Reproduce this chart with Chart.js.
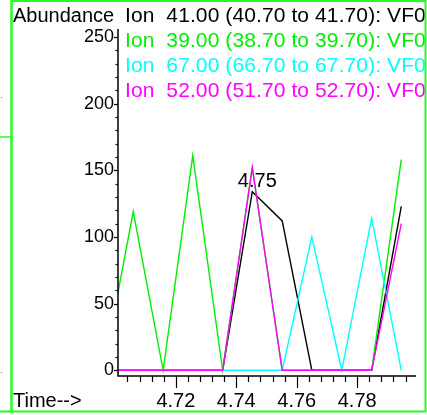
<!DOCTYPE html>
<html lang="en">
<head>
<meta charset="UTF-8">
<title>Ion chromatogram</title>
<script src="https://cdn.jsdelivr.net/npm/chart.js"></script>
<style>
  html, body { margin: 0; padding: 0; background: #ffffff; }
  #chart { display: block; }
</style>
</head>
<body>
<canvas id="chart" width="427" height="415"></canvas>
<script>
// scan times (min) and abundances per ion
const times = [4.6960, 4.7059, 4.7158, 4.7256, 4.7355, 4.7453, 4.7552, 4.7650, 4.7749, 4.7848, 4.7946];
const ion41 = [0, 0, 0, 0, 0, 134, 112, 0, 0, 0, 123];
const ion39 = [0, 119, 0, 161, 0, 152, 0, 0, 0, 0, 158];
const ion67 = [0, 0, 0, 0, 0, 0, 0, 100, 0, 114, 0];
const ion52 = [0, 0, 0, 0, 0, 152, 0, 0, 0, 0, 110];

const ionLabels = [
  'Ion  41.00 (40.70 to 41.70): VF0',
  'Ion  39.00 (38.70 to 39.70): VF0',
  'Ion  67.00 (66.70 to 67.70): VF0',
  'Ion  52.00 (51.70 to 52.70): VF0'
];
const ionColors = ['#000000', '#00ee00', '#00ffff', '#ff00ff'];

const xTickLabels = [4.72, 4.74, 4.76, 4.78];
const yTickLabels = [0, 50, 100, 150, 200, 250];

function pts(vals) {
  return times.map((t, i) => ({ x: t, y: vals[i] }));
}

// axes, ticks and texts drawn on top of the library's scales
const decor = {
  id: 'decor',
  afterDraw(chart) {
    const ctx = chart.ctx;
    const xs = chart.scales.x, ys = chart.scales.y;
    const area = chart.chartArea;
    ctx.save();

    // axis lines
    ctx.strokeStyle = '#000';
    ctx.lineWidth = 1.5;
    ctx.beginPath();
    ctx.moveTo(area.left, area.top);
    ctx.lineTo(area.left, area.bottom);
    ctx.lineTo(area.right, area.bottom);
    ctx.stroke();

    // x ticks every 0.004, long ones at labels
    ctx.lineWidth = 1.2;
    for (let v = 4.704; v < xs.max; v += 0.004) {
      const px = Math.round(xs.getPixelForValue(v)) + 0.5;
      const major = xTickLabels.some(t => Math.abs(t - v) < 1e-6);
      ctx.beginPath();
      ctx.moveTo(px, area.bottom);
      ctx.lineTo(px, area.bottom + (major ? 12 : 6));
      ctx.stroke();
    }
    // y ticks every 10
    for (let v = 0; v <= 250; v += 10) {
      const py = Math.round(ys.getPixelForValue(v)) + 0.5;
      const major = v % 50 === 0;
      ctx.beginPath();
      ctx.moveTo(area.left, py);
      ctx.lineTo(area.left - (major ? 4 : 2.5), py);
      ctx.stroke();
    }

    ctx.fillStyle = '#000';
    // y labels
    ctx.font = '18px "Liberation Sans", Arial, sans-serif';
    ctx.textAlign = 'right';
    ctx.textBaseline = 'middle';
    yTickLabels.forEach(v => ctx.fillText(String(v), 114, ys.getPixelForValue(v)));
    // x labels
    ctx.font = '20px "Liberation Sans", Arial, sans-serif';
    ctx.textAlign = 'center';
    ctx.textBaseline = 'alphabetic';
    xTickLabels.forEach(v => ctx.fillText(v.toFixed(2), xs.getPixelForValue(v), 407));

    ctx.textAlign = 'left';
    ctx.fillText('Time-->', 13, 407);
    ctx.fillText('Abundance', 13, 22);
    ctx.font = '21px "Liberation Sans", Arial, sans-serif';
    ctx.letterSpacing = '0.1px';
    ionLabels.forEach((s, i) => {
      ctx.fillStyle = ionColors[i];
      ctx.fillText(s, 125, 22 + i * 25);
    });
    ctx.letterSpacing = '0px';

    // peak label on ion 41
    const pk = ion41.indexOf(Math.max(...ion41));
    ctx.font = '20px "Liberation Sans", Arial, sans-serif';
    ctx.fillStyle = '#000';
    ctx.textAlign = 'center';
    ctx.fillText(times[pk].toFixed(2), xs.getPixelForValue(times[pk]) + 5, ys.getPixelForValue(ion41[pk]) - 5);

    // frame
    ctx.strokeStyle = '#22ff22';
    ctx.lineWidth = 2.5;
    ctx.beginPath();
    ctx.moveTo(11.5, 0);
    ctx.lineTo(11.5, 413);
    ctx.stroke();
    ctx.lineWidth = 2;
    ctx.beginPath();
    ctx.moveTo(11, 1);
    ctx.lineTo(425.5, 1);
    ctx.lineTo(425.5, 411.5);
    ctx.lineTo(0, 411.5);
    ctx.stroke();
    ctx.lineWidth = 1.5;
    ctx.beginPath();
    ctx.moveTo(0, 137);
    ctx.lineTo(11, 137);
    ctx.stroke();
    ctx.fillStyle = '#888';
    ctx.fillRect(1, 97, 1, 1);
    ctx.fillRect(1, 372, 1, 1);
    ctx.restore();
  }
};

const line = (vals, color) => ({
  data: pts(vals),
  borderColor: color,
  borderWidth: 1.4,
  pointRadius: 0,
  tension: 0,
  fill: false
});

new Chart(document.getElementById('chart').getContext('2d'), {
  type: 'line',
  data: {
    // first dataset is painted last (on top)
    datasets: [
      line(ion52, ionColors[3]),
      line(ion67, ionColors[2]),
      line(ion39, ionColors[1]),
      line(ion41, ionColors[0])
    ]
  },
  options: {
    responsive: false,
    animation: false,
    devicePixelRatio: 1,
    layout: { padding: { left: 118, top: 29, right: 11, bottom: 39 } },
    plugins: { legend: { display: false }, tooltip: { enabled: false } },
    scales: {
      x: { type: 'linear', min: 4.70086, max: 4.79947, display: false },
      y: { type: 'linear', min: -4.3, max: 256, display: false }
    }
  },
  plugins: [decor]
});
</script>
</body>
</html>
